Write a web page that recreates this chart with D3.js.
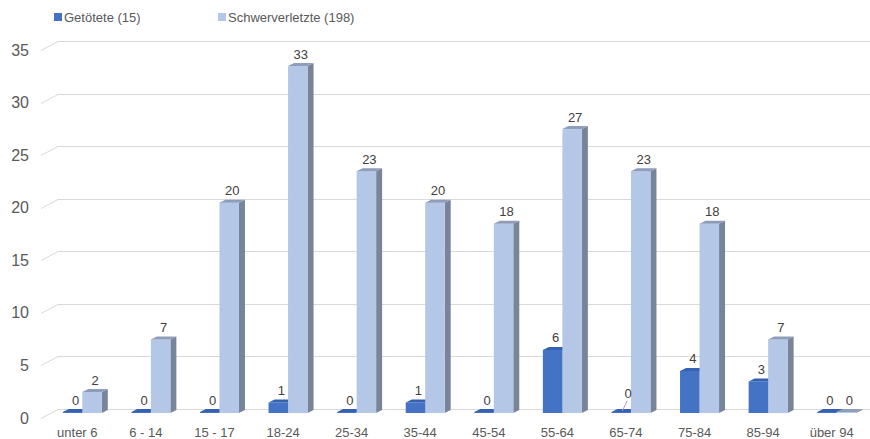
<!DOCTYPE html>
<html>
<head>
<meta charset="utf-8">
<script src="https://cdn.jsdelivr.net/npm/d3@7"></script>
<style>
    body { margin: 0; background: #fff; }
    #chart { width: 870px; height: 439px; }
    text { font-family: "Liberation Sans", Arial, sans-serif; }
</style>
</head>
<body>
<div id="chart"></div>
<script>
//Datos
const categorias = ['unter 6', '6 - 14', '15 - 17', '18-24', '25-34', '35-44', '45-54', '55-64', '65-74', '75-84', '85-94', 'über 94'];
const getoetete = [0, 0, 0, 1, 0, 1, 0, 6, 0, 4, 3, 0];
const schwerverletzte = [2, 7, 20, 33, 23, 20, 18, 27, 23, 18, 7, 0];
const serien = ['Getötete (15)', 'Schwerverletzte (198)'];
const ticksY = [0, 5, 10, 15, 20, 25, 30, 35];

//Colores
const COLOR_DARK = '#4472C4', COLOR_DARK_TOP = '#3561B0', COLOR_DARK_SIDE = '#2F5597',
    COLOR_LIGHT = '#B4C7E7', COLOR_LIGHT_TOP = '#8E9DB9', COLOR_LIGHT_SIDE = '#77849A',
    COLOR_GRID = '#D9D9D9', COLOR_TEXT = '#595959', COLOR_LABEL = '#404040';

const width = 870, height = 439;
//Profundidad 3D
const floorDx = -17, floorDy = 9;   // pared lateral
const barDx = 6, barDy = -3;        // profundidad de cada barra

let svg = d3.select('#chart').append('svg')
    .attr('width', width)
    .attr('height', height);

//Escalas
let yBack = d3.scaleLinear().domain([0, 35]).range([409, 41]);
let yFront = yBack.copy().range([409 + floorDy, 41 + floorDy]);
let yBar = yBack.copy().range([413, 45]);

let x = d3.scaleBand().domain(categorias).range([43, 866]).padding(0);
let tipos = ['dark', 'light'];
let xSub = d3.scaleBand().domain(tipos).range([0, 39]);
let groupShift = 5;

//Rejilla
let grid = svg.append('g');
ticksY.forEach(function(t) {
    let yb = Math.round(yBack(t)) + 0.5;
    grid.append('path')
        .attr('d', 'M' + (58 + floorDx) + ',' + (yb + floorDy) + 'L58,' + yb + 'L870,' + yb)
        .attr('fill', 'none')
        .attr('stroke', COLOR_GRID)
        .attr('stroke-width', 1);
});

//Eje Y
let yAxis = function(g) {
    g.call(d3.axisLeft(yFront).tickValues(ticksY).tickSize(0).tickPadding(0));
    g.call(function(g){ g.select('.domain').remove(); });
    g.selectAll('text')
        .attr('fill', COLOR_TEXT)
        .style('font-size', '16px')
        .style('font-family', '"Liberation Sans", Arial, sans-serif');
};
svg.append('g')
    .attr('transform', 'translate(29,0)')
    .call(yAxis);

//Eje X
let xAxis = function(g) {
    g.call(d3.axisBottom(x).tickSize(0).tickPadding(0));
    g.call(function(g){ g.select('.domain').remove(); });
    g.selectAll('text')
        .attr('fill', COLOR_TEXT)
        .attr('dy', 0)
        .attr('y', 0)
        .style('font-size', '13px')
        .style('font-family', '"Liberation Sans", Arial, sans-serif');
};
svg.append('g')
    .attr('transform', 'translate(0,437)')
    .call(xAxis);

//Barras
let data = categorias.map(function(c, i) {
    return { cat: c, dark: getoetete[i], light: schwerverletzte[i] };
});

let colores = {
    dark: [COLOR_DARK, COLOR_DARK_TOP, COLOR_DARK_SIDE],
    light: [COLOR_LIGHT, COLOR_LIGHT_TOP, COLOR_LIGHT_SIDE]
};

let barras = svg.append('g');
let etiquetas = svg.append('g');

data.forEach(function(d) {
    tipos.forEach(function(key) {
        let v = d[key];
        let x0 = x(d.cat) + x.bandwidth() / 2 - 19.5 + groupShift + xSub(key);
        let w = xSub.bandwidth();
        let yb = yBar(0);
        let yt = v > 0 ? yBar(v) : yb - 1;
        let g = barras.append('g');
        //Cara lateral
        g.append('path')
            .attr('d', 'M' + (x0 + w) + ',' + yt + 'L' + (x0 + w + barDx) + ',' + (yt + barDy) +
                'L' + (x0 + w + barDx) + ',' + (yb + barDy) + 'L' + (x0 + w) + ',' + yb + 'Z')
            .attr('fill', colores[key][2]);
        //Cara frontal
        g.append('rect')
            .attr('x', x0)
            .attr('y', yt)
            .attr('width', w)
            .attr('height', yb - yt)
            .attr('fill', colores[key][0]);
        //Cara superior
        g.append('path')
            .attr('d', 'M' + x0 + ',' + yt + 'L' + (x0 + barDx) + ',' + (yt + barDy) +
                'L' + (x0 + w + barDx) + ',' + (yt + barDy) + 'L' + (x0 + w) + ',' + yt + 'Z')
            .attr('fill', colores[key][1]);

        //Etiqueta
        let lx = x0 + (w + barDx) / 2;
        let ly = yt - 12;
        //Etiqueta desplazada con línea guía (65-74)
        if (v == 0 && key == 'dark' && d.light > 0 && d.cat == '65-74') {
            lx = lx + 4;
            ly = ly - 7;
            etiquetas.append('line')
                .attr('x1', lx - 1).attr('y1', ly + 8)
                .attr('x2', lx - 6).attr('y2', yt - 1)
                .attr('stroke', '#A6A6A6')
                .attr('stroke-width', 1);
        }
        etiquetas.append('text')
            .attr('x', lx)
            .attr('y', ly)
            .attr('dy', '0.35em')
            .attr('text-anchor', 'middle')
            .attr('fill', COLOR_LABEL)
            .style('font-size', '13px')
            .text(v);
    });
});

//Leyenda
let legendX = [54, 218];
let leyenda = svg.append('g');
serien.forEach(function(s, i) {
    leyenda.append('rect')
        .attr('x', legendX[i])
        .attr('y', 13)
        .attr('width', 8)
        .attr('height', 8)
        .attr('fill', i == 0 ? COLOR_DARK : COLOR_LIGHT);
    leyenda.append('text')
        .attr('x', legendX[i] + 10)
        .attr('y', 17)
        .attr('dy', '0.35em')
        .attr('fill', COLOR_TEXT)
        .style('font-size', '13px')
        .text(s);
});
</script>
</body>
</html>
